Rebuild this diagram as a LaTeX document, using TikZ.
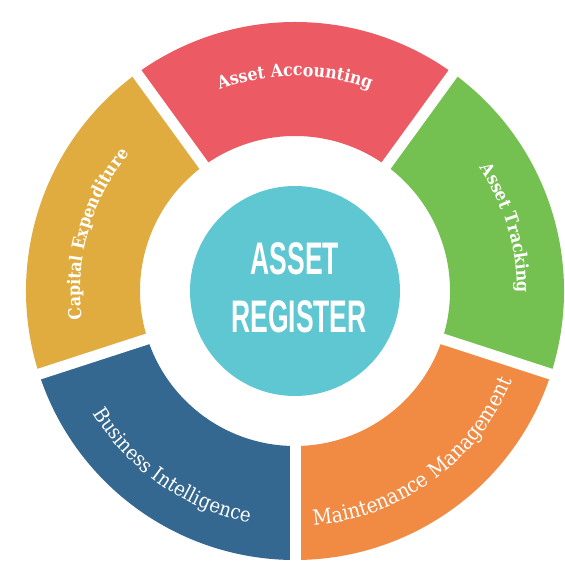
\documentclass[tikz,border=0pt]{standalone}
\usepackage{fontspec}
\usepackage{xcolor}
\usepackage{tikz}
\usetikzlibrary{decorations.text,positioning}

\newfontfamily\labelfont{DejaVu Serif Condensed}
\newfontfamily\titlefont{Liberation Sans}

\definecolor{accred}{HTML}{EC5A64}
\definecolor{trackgreen}{HTML}{74C050}
\definecolor{maintorange}{HTML}{F18A43}
\definecolor{biblue}{HTML}{356890}
\definecolor{capyellow}{HTML}{E0AC40}
\definecolor{regteal}{HTML}{5EC7D2}

\tikzset{
  gapline/.style={white, line width=0.22cm},
  ringlabel/.style={decorate, decoration={text along path, text align=center, text={#1}}},
  titletext/.style={text=white, font=\titlefont\bfseries\fontsize{26}{30}\selectfont,
    xscale=0.58, anchor=base, inner sep=0pt},
}

\begin{document}
\begin{tikzpicture}
    \useasboundingbox (-5.9,-5.42) rectangle (5.4,5.82);

    % Ring sectors (inner 3.1, outer 5.38)
    \fill[accred] (54:3.1) arc[start angle=54, end angle=126, radius=3.1] -- (126:5.38) arc[start angle=126, end angle=54, radius=5.38] -- cycle;
    \fill[trackgreen] (-18:3.1) arc[start angle=-18, end angle=54, radius=3.1] -- (54:5.38) arc[start angle=54, end angle=-18, radius=5.38] -- cycle;
    \fill[maintorange] (-90:3.1) arc[start angle=-90, end angle=-18, radius=3.1] -- (-18:5.38) arc[start angle=-18, end angle=-90, radius=5.38] -- cycle;
    \fill[biblue] (198:3.1) arc[start angle=198, end angle=270, radius=3.1] -- (270:5.38) arc[start angle=270, end angle=198, radius=5.38] -- cycle;
    \fill[capyellow] (126:3.1) arc[start angle=126, end angle=198, radius=3.1] -- (198:5.38) arc[start angle=198, end angle=126, radius=5.38] -- cycle;

    % White gaps between the sectors
    \foreach \a in {-90,-18,54,126,198}
        \draw[gapline] (\a:2.9) -- (\a:5.6);

    % Centre
    \node[circle, fill=regteal, minimum size=4.2cm, inner sep=0pt] (hub) at (0,0) {};
    \node[titletext] (asset) at ([yshift=0.33cm]hub.center) {ASSET};
    \node[titletext] (register) at ([xshift=0.08cm, yshift=-0.83cm]hub.center) {REGISTER};

    % Labels along the ring
    \path[ringlabel={|\labelfont\bfseries\fontsize{10}{12}\selectfont\color{white}|Asset Accounting}]
        (126:4.3) arc[start angle=126, end angle=54, radius=4.3];
    \path[ringlabel={|\labelfont\bfseries\fontsize{10}{12}\selectfont\color{white}|Asset Tracking}]
        (52.6:4.44) arc[start angle=52.6, end angle=-19.4, radius=4.44];
    \path[ringlabel={|\labelfont\fontsize{12}{14}\selectfont\color{white}|Maintenance Management}]
        (-90:4.7) arc[start angle=-90, end angle=-18, radius=4.7];
    \path[ringlabel={|\labelfont\fontsize{11.5}{13}\selectfont\color{white}|Business Intelligence}]
        (199:4.72) arc[start angle=199, end angle=271, radius=4.72];
    \path[ringlabel={|\labelfont\bfseries\fontsize{10}{12}\selectfont\color{white}|Capital Expenditure}]
        (200:4.3) arc[start angle=200, end angle=128, radius=4.3];
\end{tikzpicture}
\end{document}
